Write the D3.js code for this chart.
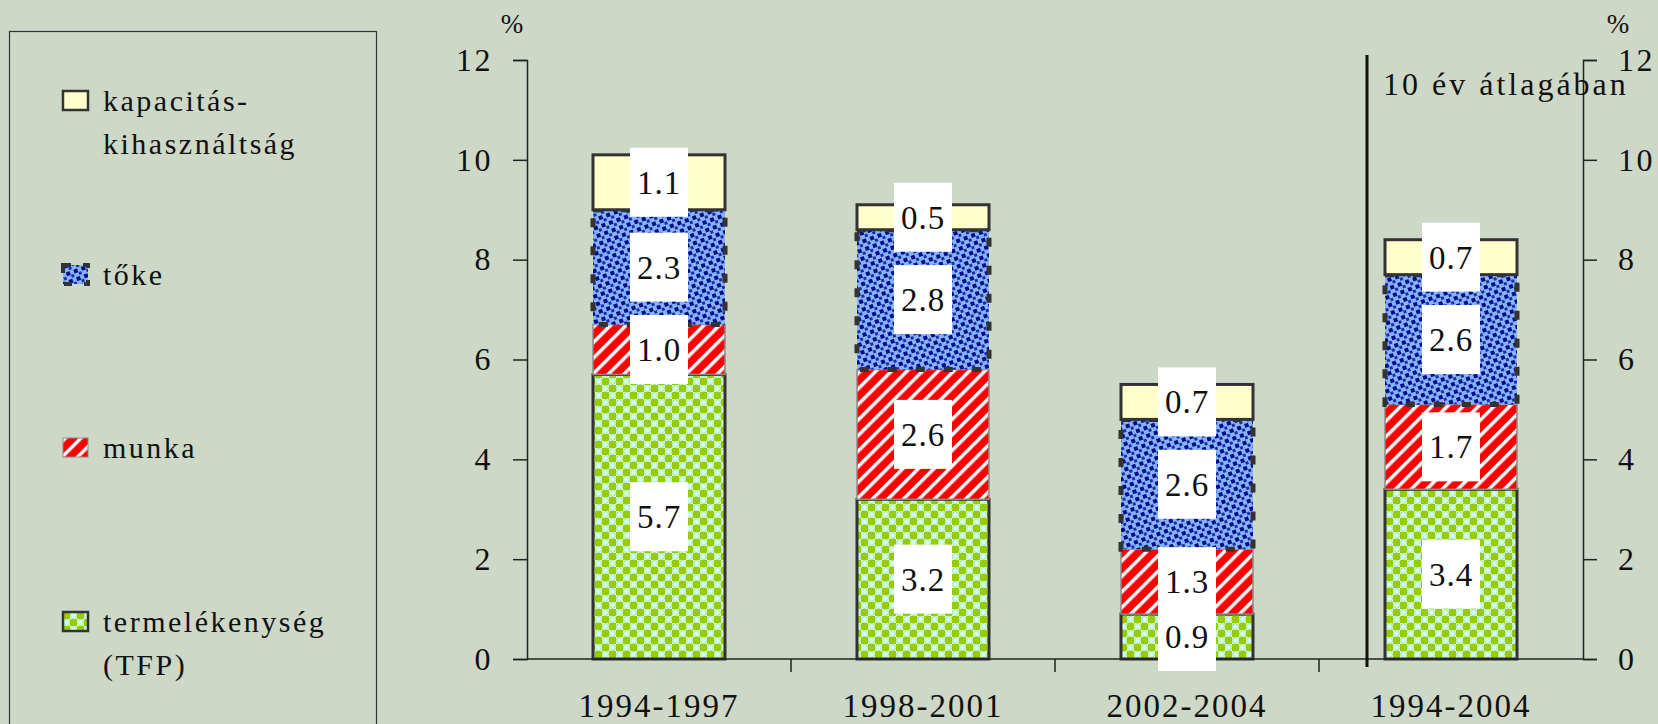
<!DOCTYPE html>
<meta charset="utf-8">
<script src="https://d3js.org/d3.v7.min.js"></script>
<style>
  body { margin: 0; background: #cdd8c7; }
  text { font-family: "Liberation Serif", serif; fill: #111; }
</style>
<body></body>
<script>

    var categories = ["1994-1997", "1998-2001", "2002-2004", "1994-2004"];
    var tfp      = [5.7, 3.2, 0.9, 3.4];
    var munka    = [1.0, 2.6, 1.3, 1.7];
    var toke     = [2.3, 2.8, 2.6, 2.6];
    var kapacitas = [1.1, 0.5, 0.7, 0.7];
    var yTicks = [0, 2, 4, 6, 8, 10, 12];
    var legendLabels = [["kapacitás-", "kihasználtság"], ["tőke"], ["munka"], ["termelékenység", "(TFP)"]];

    var W = 1658, H = 724,
        plotLeft = 527, plotRight = 1583,
        plotTop = 60, plotBottom = 659;

    var svg = d3.select("body").append("svg")
        .attr("width", W)
        .attr("height", H);

    var defs = svg.append("defs");

    // tőke: blue with navy dots
    var pToke = defs.append("pattern").attr("id", "p-toke")
        .attr("width", 8).attr("height", 8)
        .attr("patternUnits", "userSpaceOnUse")
        .attr("patternTransform", "rotate(-20)");
    pToke.append("rect").attr("width", 8).attr("height", 8).attr("fill", "#86b3fb");
    pToke.append("rect").attr("x", 0).attr("y", 0).attr("width", 4).attr("height", 4).attr("fill", "#000c8a");
    pToke.append("rect").attr("x", 4).attr("y", 4).attr("width", 3).attr("height", 3).attr("fill", "#1a2ea8");

    // munka: red with white diagonal stripes
    var pMunka = defs.append("pattern").attr("id", "p-munka")
        .attr("width", 11).attr("height", 11)
        .attr("patternUnits", "userSpaceOnUse")
        .attr("patternTransform", "rotate(45)");
    pMunka.append("rect").attr("width", 11).attr("height", 11).attr("fill", "#ff0000");
    pMunka.append("rect").attr("x", 0).attr("width", 3.5).attr("height", 11).attr("fill", "#ffffff");

    // tfp: cyan with green checks and circles
    var pTfp = defs.append("pattern").attr("id", "p-tfp")
        .attr("width", 14).attr("height", 14)
        .attr("patternUnits", "userSpaceOnUse");
    pTfp.append("rect").attr("width", 14).attr("height", 14).attr("fill", "#ccffff");
    pTfp.append("rect").attr("x", 0).attr("y", 0).attr("width", 7).attr("height", 7).attr("fill", "#99cc00");
    pTfp.append("rect").attr("x", 7).attr("y", 7).attr("width", 7).attr("height", 7).attr("fill", "#99cc00");
    pTfp.append("circle").attr("cx", 10.5).attr("cy", 3.5).attr("r", 3).attr("fill", "none").attr("stroke", "#b8e07a").attr("stroke-width", 1);
    pTfp.append("circle").attr("cx", 3.5).attr("cy", 10.5).attr("r", 3).attr("fill", "none").attr("stroke", "#b8e07a").attr("stroke-width", 1);

    var series = [
      { key: "tfp", values: tfp, fill: "url(#p-tfp)", stroke: "#333", sw: 3, dash: null },
      { key: "munka", values: munka, fill: "url(#p-munka)", stroke: "#8a8a8a", sw: 1.5, dash: null },
      { key: "toke", values: toke, fill: "url(#p-toke)", stroke: "#333", sw: 5, dash: "9,19" },
      { key: "kapacitas", values: kapacitas, fill: "#ffffcc", stroke: "#333", sw: 3, dash: null }
    ];

    var x = d3.scaleBand()
        .domain(categories)
        .range([plotLeft, plotRight])
        .paddingInner(0.5)
        .paddingOuter(0.25);

    var y = d3.scaleLinear()
        .domain([0, 12])
        .range([plotBottom, plotTop]);

    // stacked segments
    var segs = [];
    categories.forEach(function(c, i) {
      var base = 0;
      series.forEach(function(s) {
        segs.push({ cat: c, s: s, y0: base, y1: base + s.values[i], v: s.values[i] });
        base += s.values[i];
      });
    });

    svg.append("g").selectAll("rect")
        .data(segs)
      .enter().append("rect")
        .attr("x", function(d) { return x(d.cat); })
        .attr("y", function(d) { return y(d.y1); })
        .attr("width", x.bandwidth())
        .attr("height", function(d) { return y(d.y0) - y(d.y1); })
        .attr("fill", function(d) { return d.s.fill; })
        .attr("stroke", function(d) { return d.s.stroke; })
        .attr("stroke-width", function(d) { return d.s.sw; })
        .attr("stroke-dasharray", function(d) { return d.s.dash; });

    // axes
    var yl = svg.append("g")
        .attr("transform", "translate(" + plotLeft + ",0)")
        .call(d3.axisLeft(y).tickValues(yTicks).tickSize(14).tickPadding(20).tickFormat(d3.format("d")));
    var yr = svg.append("g")
        .attr("transform", "translate(" + plotRight + ",0)")
        .call(d3.axisRight(y).tickValues(yTicks).tickSize(14).tickPadding(21).tickFormat(d3.format("d")));
    [yl, yr].forEach(function(g) {
      g.select(".domain").attr("stroke", "#222").attr("stroke-width", 1.5);
      g.selectAll(".tick line").attr("stroke", "#222").attr("stroke-width", 1.5);
      g.selectAll(".tick text")
          .attr("font-family", "Liberation Serif")
          .attr("font-size", 32)
          .attr("fill", "#111")
          .style("letter-spacing", "2.5px");
    });

    // bottom axis: ticks at category boundaries
    var step = x.step();
    var bx = svg.append("g");
    bx.append("line")
        .attr("x1", plotLeft).attr("x2", plotRight)
        .attr("y1", plotBottom).attr("y2", plotBottom)
        .attr("stroke", "#222").attr("stroke-width", 1.5);
    bx.selectAll(".bt")
        .data(categories.slice(1))
      .enter().append("line")
        .attr("x1", function(d) { return x(d) - step * 0.25; })
        .attr("x2", function(d) { return x(d) - step * 0.25; })
        .attr("y1", plotBottom).attr("y2", plotBottom + 13)
        .attr("stroke", "#222").attr("stroke-width", 1.5);
    bx.selectAll(".cl")
        .data(categories)
      .enter().append("text")
        .attr("x", function(d) { return x(d) + x.bandwidth() / 2; })
        .attr("y", 717)
        .attr("text-anchor", "middle")
        .attr("font-size", 33)
        .style("letter-spacing", "2px")
        .text(function(d) { return d; });

    // % units
    svg.append("text").attr("x", 512).attr("y", 33).attr("text-anchor", "middle")
        .attr("font-size", 27).text("%");
    svg.append("text").attr("x", 1618).attr("y", 33).attr("text-anchor", "middle")
        .attr("font-size", 27).text("%");

    // separator for 10-year average
    svg.append("line")
        .attr("x1", 1367).attr("x2", 1367)
        .attr("y1", 55).attr("y2", 667)
        .attr("stroke", "#111").attr("stroke-width", 3);
    svg.append("text")
        .attr("x", 1383).attr("y", 95)
        .attr("font-size", 32)
        .style("letter-spacing", "3px")
        .text("10 év átlagában");

    // value labels
    var lab = svg.append("g").selectAll("g")
        .data(segs)
      .enter().append("g")
        .attr("transform", function(d) {
          return "translate(" + (x(d.cat) + x.bandwidth() / 2) + "," + y((d.y0 + d.y1) / 2) + ")";
        });
    lab.append("rect")
        .attr("x", -29).attr("y", -34.5)
        .attr("width", 58).attr("height", 69)
        .attr("fill", "#ffffff");
    lab.append("text")
        .attr("text-anchor", "middle")
        .attr("dy", "0.35em")
        .attr("font-size", 33)
        .style("letter-spacing", "1px")
        .text(function(d) { return d3.format(".1f")(d.v); });

    // legend
    svg.append("rect")
        .attr("x", 9.5).attr("y", 31.5)
        .attr("width", 367).attr("height", 720)
        .attr("fill", "none")
        .attr("stroke", "#333").attr("stroke-width", 1.2);

    var legendSeries = series.slice().reverse();
    var legendY = [91, 265, 438, 612];
    var leg = svg.append("g").selectAll("g")
        .data(legendSeries)
      .enter().append("g")
        .attr("transform", function(d, i) { return "translate(63," + legendY[i] + ")"; });
    leg.append("rect")
        .attr("width", 25).attr("height", 19)
        .attr("fill", function(d) { return d.fill; })
        .attr("stroke", function(d) { return d.stroke; })
        .attr("stroke-width", function(d) { return d.key == "toke" ? 4 : (d.key == "munka" ? 1 : 2.5); })
        .attr("stroke-dasharray", function(d) { return d.key == "toke" ? "8,12" : null; });
    leg.append("text")
        .attr("y", 20)
        .attr("font-size", 30)
        .style("letter-spacing", "2.5px")
        .selectAll("tspan")
        .data(function(d, i) { return legendLabels[i]; })
      .enter().append("tspan")
        .attr("x", 40)
        .attr("dy", function(d, i) { return i ? 43 : 0; })
        .text(function(d) { return d; });

</script>
